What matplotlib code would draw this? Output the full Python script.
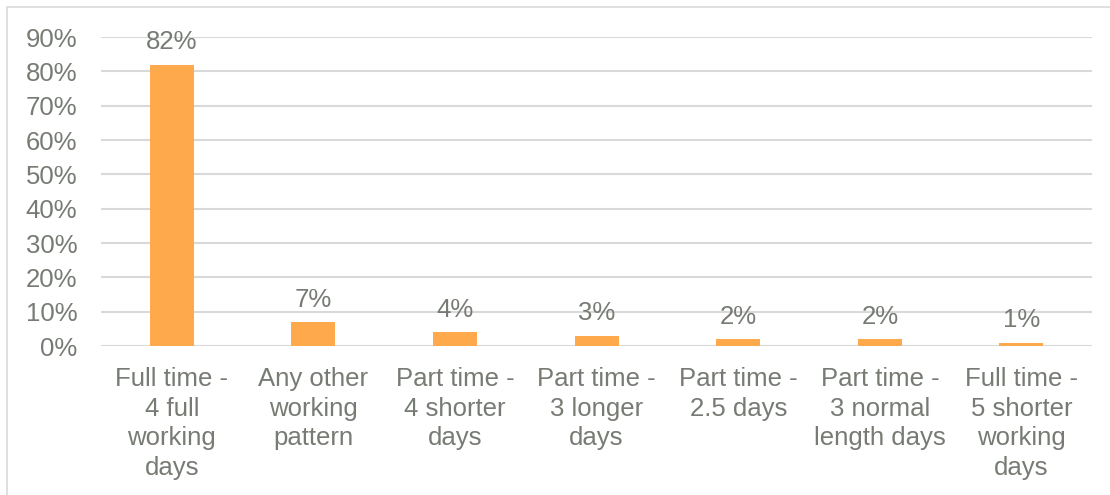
import matplotlib.pyplot as plt
from matplotlib.patches import Rectangle

categories = ["Full time -\n4 full\nworking\ndays", "Any other\nworking\npattern",
              "Part time -\n4 shorter\ndays", "Part time -\n3 longer\ndays",
              "Part time -\n2.5 days", "Part time -\n3 normal\nlength days",
              "Full time -\n5 shorter\nworking\ndays"]
values = [0.82, 0.07, 0.04, 0.03, 0.02, 0.02, 0.01]
yticks = [0, 0.1, 0.2, 0.3, 0.4, 0.5, 0.6, 0.7, 0.8, 0.9]

plt.rcParams['font.family'] = ['Liberation Sans', 'DejaVu Sans']
text_color = '#767b73'
fs = 18.5

fig = plt.figure(figsize=(11.1, 4.95), dpi=100)
ax = fig.add_axes([0.091, 0.301, 0.893, 0.624])

x = range(len(categories))
bars = ax.bar(x, values, width=0.31, color='#FFA94D', zorder=3)
for b, v in zip(bars, values):
    ax.text(b.get_x() + b.get_width() / 2, v + 0.03, f"{v:.0%}",
            ha='center', va='bottom', fontsize=fs, color=text_color)

ax.set_xlim(-0.5, len(categories) - 0.5)
ax.set_ylim(0, 0.9)
ax.set_yticks(yticks)
ax.set_yticklabels([f"{t:.0%}" for t in yticks])
ax.set_xticks(list(x))
ax.set_xticklabels(categories, linespacing=1.3)
ax.tick_params(axis='both', length=0, labelsize=fs, labelcolor=text_color)
ax.tick_params(axis='x', pad=15)
ax.tick_params(axis='y', pad=17)

ax.grid(axis='y', color='#d9d9d9', linewidth=1.5, zorder=0)
for s in ax.spines.values():
    s.set_visible(False)

# chart frame, only top and left edges fall inside the picture
fig.patches.append(Rectangle((0.006, -0.05), 1.1, 1.036, transform=fig.transFigure,
                             fill=False, edgecolor='#d9d9d9', linewidth=1.2))

fig.savefig('out.png', dpi=100)
